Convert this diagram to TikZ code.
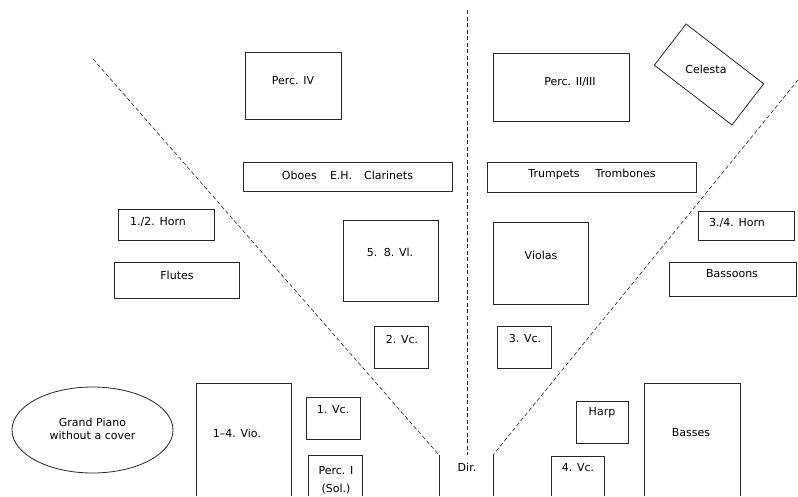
\documentclass[tikz,border=0pt]{standalone}
\usepackage{fontspec}
\setmainfont{DejaVu Sans}
\usetikzlibrary{shapes.geometric}
\begin{document}
\begin{tikzpicture}[x=1pt,y=-1pt,
  line/.style={draw=black!85,line width=0.8pt},
  box/.style={line,rectangle,inner sep=0pt,outer sep=0pt},
  lbl/.style={font=\fontsize{11}{13}\selectfont,inner sep=0pt,anchor=center,text=black},
  axis/.style={draw=black!85,line width=0.6pt,dash pattern=on 4pt off 2.5pt}]
\useasboundingbox (0,0) rectangle (798,496);
% closed boxes
\node[box,minimum width=96,minimum height=67] (perc4) at (293,85.5) {};
\node[box,minimum width=209,minimum height=29] (oboes) at (347.5,176.5) {};
\node[box,minimum width=136,minimum height=68] (perc23) at (561,87) {};
\node[box,minimum width=209,minimum height=30] (trump) at (591.5,177) {};
\node[box,minimum width=96,minimum height=29] (horn34) at (746,225.5) {};
\node[box,minimum width=96,minimum height=31] (horn12) at (166,224.5) {};
\node[box,minimum width=125,minimum height=36] (flutes) at (176.5,280) {};
\node[box,minimum width=95,minimum height=81] (vl58) at (390.5,260.5) {};
\node[box,minimum width=95,minimum height=82] (violas) at (540.5,263) {};
\node[box,minimum width=54,minimum height=42] (vc2) at (401,347) {};
\node[box,minimum width=54,minimum height=42] (vc3) at (524,347) {};
\node[box,minimum width=127,minimum height=34] (bassoons) at (732.5,279) {};
\node[box,minimum width=52,minimum height=42] (harp) at (602,422) {};
\node[box,minimum width=54,minimum height=42] (vc1) at (333,418) {};
\node[line,ellipse,minimum width=161,minimum height=86,inner sep=0pt] (piano) at (92.5,430) {};
\node[box,minimum width=98,minimum height=52,rotate=-37.6] (celesta) at (709,74.5) {};
% open boxes running off the bottom
\coordinate (vioA) at (196,496); \coordinate (vioB) at (291,383);
\draw[line] (vioA) |- (vioB) -- (291,496);
\coordinate (pA) at (308,496); \coordinate (pB) at (362,455);
\draw[line] (pA) |- (pB) -- (362,496);
\coordinate (vc4A) at (551,496); \coordinate (vc4B) at (604,456);
\draw[line] (vc4A) |- (vc4B) -- (604,496);
\coordinate (basA) at (644,496); \coordinate (basB) at (740,383);
\draw[line] (basA) |- (basB) -- (740,496);
\coordinate (dirL) at (439,455); \coordinate (dirR) at (493,455);
\draw[line] (dirL) -- (439,496);
\draw[line] (dirR) -- (493,496);
% dashed sight lines
\coordinate (lt) at (93,59);
\coordinate (rt) at (798,80);
\coordinate (vt) at (467,10);
\coordinate (vb) at (467,455);
\draw[axis] (lt) -- (dirL);
\draw[axis] (rt) -- (dirR);
\draw[axis] (vt) -- (vb);
% labels
\node[lbl] (tperc4) at (293,81) {Perc. IV};
\node[lbl] (toboes) at (347.5,175) {Oboes\hspace{1.2em}E.H.\hspace{1.1em}Clarinets};
\node[lbl] (tperc23) at (570,82) {Perc. II/III};
\node[lbl] (ttrump) at (592,174) {Trumpets\hspace{1.45em}Trombones};
\node[lbl] (tcel) at (706,69) {Celesta};
\node[lbl] (th12) at (158,222) {1./2. Horn};
\node[lbl] (th34) at (737,223) {3./4. Horn};
\node[lbl] (tflutes) at (177,275) {Flutes};
\node[lbl] (tbass) at (732,274) {Bassoons};
\node[lbl] (tvl58) at (390,252) {5.\hspace{0.6em}8. Vl.};
\node[lbl] (tviolas) at (541,255) {Violas};
\node[lbl] (tvc2) at (402,339) {2. Vc.};
\node[lbl] (tvc3) at (525,338) {3. Vc.};
\node[lbl] (tharp) at (602,413) {Harp};
\node[lbl] (tbasses) at (691,433) {Basses};
\node[lbl] (tvc4) at (578,468) {4. Vc.};
\node[lbl] (tdir) at (467,467) {Dir.};
\node[lbl] (tvio) at (237,433) {1--4. Vio.};
\node[lbl] (tvc1) at (333,410) {1. Vc.};
\node[lbl] (tpercI) at (336,471) {Perc. I};
\node[lbl] (tsol) at (336,489) {(Sol.)};
\node[lbl,align=center] (tpiano) at (92.5,429) {Grand Piano\\without a cover};
\end{tikzpicture}
\end{document}
